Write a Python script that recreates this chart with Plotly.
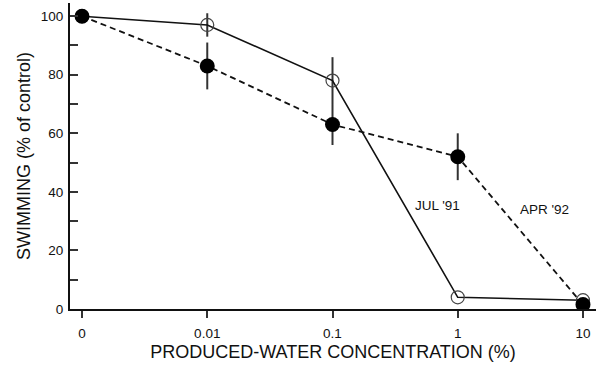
import plotly.graph_objects as go

# Produced-water concentration (%) shown on an evenly spaced axis
concentrations = ["0", "0.01", "0.1", "1", "10"]

# Swimming (% of control) for the two test dates
jul91 = [100, 97, 78, 4, 3]
jul91_err = [0, 4, 8, 0, 0]
apr92 = [100, 83, 63, 52, 1.5]
apr92_err = [0, 8, 7, 8, 0]

font_family = "Liberation Sans, Arial, Helvetica, sans-serif"

fig = go.Figure()

fig.add_trace(go.Scatter(
    x=concentrations, y=jul91, name="JUL '91",
    mode="lines+markers",
    line=dict(color="#111111", width=1.6),
    marker=dict(symbol="circle-open", size=13, color="#444444",
                line=dict(width=1.2, color="#444444")),
    error_y=dict(type="data", array=jul91_err, visible=True,
                 thickness=2, width=0, color="#333333"),
))

fig.add_trace(go.Scatter(
    x=concentrations, y=apr92, name="APR '92",
    mode="lines+markers",
    line=dict(color="#111111", width=1.8, dash="6px,4px"),
    marker=dict(symbol="circle", size=15, color="#000000"),
    error_y=dict(type="data", array=apr92_err, visible=True,
                 thickness=2, width=0, color="#333333"),
))

fig.add_annotation(x=2.84, y=35.5, text="JUL '91", showarrow=False,
                   font=dict(family=font_family, size=13.5, color="#111111"))
fig.add_annotation(x=3.69, y=34, text="APR '92", showarrow=False,
                   font=dict(family=font_family, size=13.5, color="#111111"))

fig.update_layout(
    width=598, height=367,
    margin=dict(l=70, r=2, t=3, b=58),
    paper_bgcolor="white", plot_bgcolor="white",
    showlegend=False,
    font=dict(family=font_family, color="#111111"),
)

fig.update_xaxes(
    type="category",
    range=[-0.096, 4.104],
    showgrid=False, zeroline=False,
    showline=True, linecolor="#111111", linewidth=2,
    ticks="outside", ticklen=7, tickwidth=1.5, tickcolor="#333333",
    ticklabelstandoff=4,
    tickfont=dict(size=13.5, color="#111111"),
    title=dict(text="PRODUCED-WATER CONCENTRATION (%)",
               font=dict(size=18, color="#111111"), standoff=5),
)

fig.update_yaxes(
    range=[0, 104.5],
    tickvals=[0, 20, 40, 60, 80, 100],
    showgrid=False, zeroline=False,
    showline=True, linecolor="#111111", linewidth=2,
    ticks="inside", ticklen=8, tickwidth=1.5, tickcolor="#333333",
    minor=dict(dtick=10, ticks="inside", ticklen=8, tickwidth=1.5,
               tickcolor="#333333", showgrid=False),
    ticklabelstandoff=2,
    tickfont=dict(size=13.5, color="#111111"),
    title=dict(text="SWIMMING (% of control)",
               font=dict(size=18, color="#111111"), standoff=5),
)

fig.write_html("out.html")
